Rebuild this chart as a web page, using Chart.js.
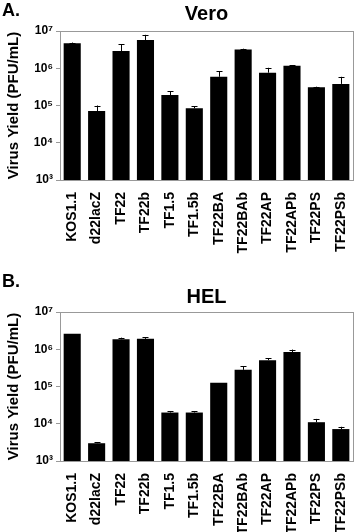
<!DOCTYPE html>
<html>
<head>
<meta charset="utf-8">
<script src="https://cdn.jsdelivr.net/npm/chart.js@4/dist/chart.umd.min.js"></script>
<style>
  html, body { margin: 0; padding: 0; background: #fff; }
  body { width: 362px; height: 532px; position: relative; overflow: hidden; font-family: "Liberation Sans", Arial, sans-serif; }
  .panel { position: absolute; left: 0; width: 362px; height: 266px; }
  .tag { position: absolute; left: 2px; font-weight: bold; font-size: 18px; color: #000; }
</style>
</head>
<body>
<div class="panel" style="top:0"><canvas id="veroChart" width="362" height="266"></canvas></div>
<div class="panel" style="top:266px"><canvas id="helChart" width="362" height="266"></canvas></div>
<div class="tag" style="top:0">A.</div>
<div class="tag" style="top:271px">B.</div>
<script>
// Virus yields (PFU/mL)
var categories = ['KOS1.1', 'd22lacZ', 'TF22', 'TF22b', 'TF1.5', 'TF1.5b', 'TF22BA', 'TF22BAb', 'TF22AP', 'TF22APb', 'TF22PS', 'TF22PSb'];
var veroYield = [4.7e6, 7.1e4, 2.9e6, 5.7e6, 1.9e5, 8.4e4, 5.9e5, 3.2e6, 7.6e5, 1.17e6, 3.1e5, 3.8e5];
var veroErrTop = [4.9e6, 1.0e5, 4.4e6, 7.9e6, 2.4e5, 9.6e4, 8.3e5, 3.35e6, 1.03e6, 1.22e6, 3.2e5, 5.9e5];
var helYield = [2.6e6, 3.0e3, 1.85e6, 1.9e6, 2.0e4, 2.0e4, 1.27e5, 2.8e5, 5.1e5, 8.4e5, 1.1e4, 7.2e3];
var helErrTop = [2.6e6, 3.2e3, 2.05e6, 2.1e6, 2.2e4, 2.2e4, 1.3e5, 3.5e5, 5.7e5, 9.8e5, 1.35e4, 8.3e3];
var yTicks = [1e3, 1e4, 1e5, 1e6, 1e7];
var yTickLabels = ['10\u00b3', '10\u2074', '10\u2075', '10\u2076', '10\u2077'];

var FONT = "'Liberation Sans', Arial, sans-serif";

// frame + upper error bars
var framePlugin = {
  id: 'frame',
  afterDatasetsDraw: function(chart) {
    var ctx = chart.ctx, a = chart.chartArea;
    var y = chart.scales.y;
    var errs = chart.options.plugins.frame.errTop;
    var meta = chart.getDatasetMeta(0);
    ctx.save();
    ctx.strokeStyle = '#000';
    ctx.lineWidth = 1;
    meta.data.forEach(function(bar, i) {
      var yt = y.getPixelForValue(errs[i]);
      if (bar.y - yt < 0.5) return;
      var x = Math.round(bar.x) + 0.5;
      ctx.beginPath();
      ctx.moveTo(x, bar.y);
      ctx.lineTo(x, yt);
      ctx.moveTo(x - 3, Math.round(yt) + 0.5);
      ctx.lineTo(x + 3, Math.round(yt) + 0.5);
      ctx.stroke();
    });
    ctx.strokeStyle = '#999';
    ctx.strokeRect(Math.round(a.left) + 0.5, Math.round(a.top) + 0.5, Math.round(a.right - a.left), Math.round(a.bottom - a.top));
    ctx.restore();
  }
};

function makeChart(id, title, values, errTop, titlePad, xHeight) {
  return new Chart(document.getElementById(id), {
    type: 'bar',
    data: {
      labels: categories,
      datasets: [{
        data: values,
        backgroundColor: '#000',
        borderWidth: 0,
        barPercentage: 0.7,
        categoryPercentage: 1
      }]
    },
    options: {
      responsive: false,
      animation: false,
      layout: { padding: { left: 0, right: 6, top: 0, bottom: 0 } },
      plugins: {
        legend: { display: false },
        tooltip: { enabled: false },
        title: {
          display: true, text: title, fullSize: false, color: '#000',
          font: { size: 20, weight: 'bold', family: FONT, lineHeight: 1.2 },
          padding: titlePad
        },
        frame: { errTop: errTop }
      },
      scales: {
        x: {
          grid: { display: false },
          border: { display: false },
          ticks: { color: '#000', font: { size: 14, weight: 'bold', family: FONT }, minRotation: 90, maxRotation: 90, padding: 4, autoSkip: false },
          afterFit: function(s) { s.height = xHeight; }
        },
        y: {
          type: 'logarithmic',
          min: 1e3, max: 1e7,
          afterBuildTicks: function(s) { s.ticks = yTicks.map(function(v) { return { value: v }; }); },
          grid: { drawOnChartArea: false, tickLength: 4, color: '#999' },
          border: { display: false },
          ticks: {
            color: '#000', padding: 3,
            font: { size: 12, weight: 'bold', family: FONT },
            callback: function(v) { var i = yTicks.indexOf(v); return i < 0 ? '' : yTickLabels[i]; }
          },
          title: {
            display: true, text: 'Virus Yield (PFU/mL)', color: '#000',
            font: { size: 15, weight: 'bold', family: FONT, lineHeight: 1.2 },
            padding: { top: 5, bottom: 0 }
          },
          afterFit: function(s) { s.width = 60; }
        }
      }
    },
    plugins: [framePlugin]
  });
}

makeChart('veroChart', 'Vero', veroYield, veroErrTop, { top: 2, bottom: 5 }, 86);
makeChart('helChart', 'HEL', helYield, helErrTop, { top: 19, bottom: 3 }, 71);
</script>
</body>
</html>
